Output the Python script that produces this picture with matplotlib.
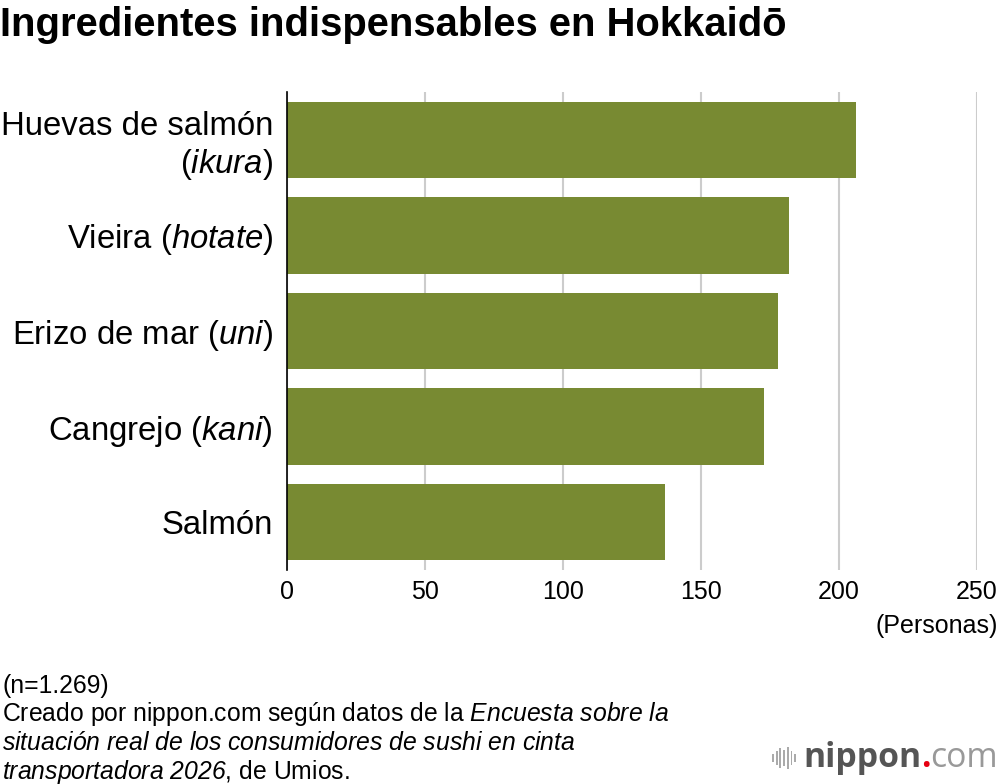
import matplotlib
matplotlib.use('Agg')
import matplotlib.pyplot as plt
from matplotlib.patches import Rectangle

plt.rcParams['font.family'] = ['Liberation Sans', 'DejaVu Sans']
plt.rcParams['mathtext.fontset'] = 'custom'
plt.rcParams['mathtext.rm'] = 'Liberation Sans'
plt.rcParams['mathtext.it'] = 'Liberation Sans:italic'
plt.rcParams['mathtext.sf'] = 'Liberation Sans:italic'
plt.rcParams['mathtext.bf'] = 'Liberation Sans:bold'

# data
categories = ['Huevas de salmón\n($\\mathsf{ikura}$)',
              'Vieira ($\\mathsf{hotate}$)',
              'Erizo de mar ($\\mathsf{uni}$)',
              'Cangrejo ($\\mathsf{kani}$)',
              'Salmón']
values = [206, 182, 178, 173, 137]
xticks = [0, 50, 100, 150, 200, 250]

bar_color = '#788a32'

fig = plt.figure(figsize=(10, 7.84), dpi=100)
ax = fig.add_axes([0.287, 1 - 570 / 784, 0.690, (570 - 92) / 784])

ypos = list(range(len(categories)))
ax.barh(ypos, values, height=0.8, color=bar_color, zorder=2)
ax.set_ylim(4.5, -0.5)
ax.set_xlim(0, 250)
ax.set_xticks(xticks)
ax.set_yticks(ypos)
ax.set_yticklabels(categories, fontsize=23.7)
ax.tick_params(axis='y', length=0, pad=10)
ax.tick_params(axis='x', length=0, pad=7, labelsize=18)
ax.grid(axis='x', color='#cccccc', linewidth=1.5, zorder=0)
for s in ['top', 'right', 'bottom']:
    ax.spines[s].set_visible(False)
ax.spines['left'].set_color('black')
ax.spines['left'].set_linewidth(1.2)
ax.spines['left'].set_zorder(3)

fig.text(0.998, 1 - 626 / 784, '(Personas)', fontsize=18, ha='right', va='center')

fig.text(0.0, 1 - 25 / 784, 'Ingredientes indispensables en Hokkaidō',
         fontsize=28.8, fontweight='bold', ha='left', va='center')

notes = ['(n=1.269)',
         'Creado por nippon.com según datos de la $\\mathsf{Encuesta\\ sobre\\ la}$',
         '$\\mathsf{situación\\ real\\ de\\ los\\ consumidores\\ de\\ sushi\\ en\\ cinta}$',
         '$\\mathsf{transportadora\\ 2026}$, de Umios.']
for i, line in enumerate(notes):
    fig.text(0.002, 1 - (686 + i * 28.5) / 784, line, fontsize=17.8, ha='left', va='center')

# logo
heights = [0.35, 0.6, 0.9, 0.7, 1.0, 0.6, 0.35]
for i, h in enumerate(heights):
    fig.add_artist(Rectangle((0.772 + i * 0.0037, (784 - 758) / 784 - h * 0.014),
                             0.0018, h * 0.028, transform=fig.transFigure,
                             color='#aaaaaa', lw=0))
renderer = fig.canvas.get_renderer()
x = 0.803
for txt, col, wt in [('nippon', '#555555', 'bold'), ('.', '#e60012', 'bold'),
                     ('com', '#999999', 'normal')]:
    t = fig.text(x, 1 - 758 / 784, txt, fontsize=24.3, fontweight=wt, color=col,
                 ha='left', va='center', family='Open Sans')
    bb = t.get_window_extent(renderer)
    x = bb.x1 / fig.bbox.width

fig.savefig('out.png', dpi=100)
